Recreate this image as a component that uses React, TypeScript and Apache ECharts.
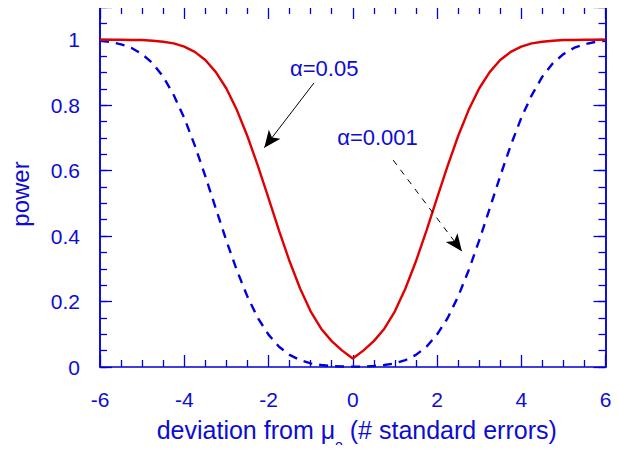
import React, { useEffect, useRef } from "react";
import * as echarts from "echarts";

// Deviation of the true mean from mu_o, in standard errors
const deviation = [
  -6, -5.75, -5.5, -5.25, -5, -4.75, -4.5, -4.25, -4, -3.75, -3.5, -3.25, -3,
  -2.75, -2.5, -2.25, -2, -1.75, -1.5, -1.25, -1, -0.75, -0.5, -0.25, 0,
  0.25, 0.5, 0.75, 1, 1.25, 1.5, 1.75, 2, 2.25, 2.5, 2.75, 3, 3.25, 3.5, 3.75,
  4, 4.25, 4.5, 4.75, 5, 5.25, 5.5, 5.75, 6,
];

// Power of the test at alpha = 0.05
const powerAlpha05 = [
  1.0, 1.0, 1.0, 0.999, 0.999, 0.997, 0.994, 0.989, 0.979, 0.963, 0.938, 0.901, 0.851,
  0.785, 0.705, 0.614, 0.516, 0.417, 0.323, 0.24, 0.17, 0.117, 0.079, 0.05, 0.026,
  0.05, 0.079, 0.117, 0.17, 0.24, 0.323, 0.417, 0.516, 0.614, 0.705, 0.785, 0.851, 0.901, 0.938, 0.963,
  0.979, 0.989, 0.994, 0.997, 0.999, 0.999, 1.0, 1.0, 1.0,
];

// Power of the test at alpha = 0.001
const powerAlpha001 = [
  0.997, 0.993, 0.986, 0.975, 0.956, 0.928, 0.887, 0.831, 0.761, 0.677, 0.583, 0.484, 0.386,
  0.295, 0.215, 0.149, 0.099, 0.062, 0.037, 0.021, 0.011, 0.006, 0.003, 0.0014, 0.001,
  0.0014, 0.003, 0.006, 0.011, 0.021, 0.037, 0.062, 0.099, 0.149, 0.215, 0.295, 0.386, 0.484, 0.583, 0.677,
  0.761, 0.831, 0.887, 0.928, 0.956, 0.975, 0.986, 0.993, 0.997,
];

// Annotation labels and their arrows, in data coordinates
const labelTexts = ["α=0.05", "α=0.001"];
const labelAnchors: [number, number][] = [
  [-1.49, 0.913],
  [-0.37, 0.701],
];
const arrowStarts: [number, number][] = [
  [-0.92, 0.868],
  [0.96, 0.632],
];
const arrowEnds: [number, number][] = [
  [-2.1, 0.67],
  [2.59, 0.354],
];

const TEXT_BLUE = "#0c0cd4";
const AXIS_BLUE = "#0000d8";
const RED = "#e00000";
const DASH_BLUE = "#0000dd";
const FONT = "'Liberation Sans', Arial, Helvetica, sans-serif";

export default function App() {
  const ref = useRef<HTMLDivElement>(null);

  useEffect(() => {
    const chart = echarts.init(ref.current!, null, { renderer: "svg" });

    const axisLine = { show: true, onZero: false, lineStyle: { color: AXIS_BLUE, width: 1.5 } };
    const majorTick = { show: true, inside: true, length: 12, lineStyle: { color: AXIS_BLUE, width: 1.3 } };
    const minorTickLen = 7;

    const xCommon: any = {
      type: "value",
      min: -6,
      max: 6,
      interval: 2,
      axisLine,
      splitLine: { show: false },
      axisTick: majorTick,
      minorTick: {
        show: true,
        splitNumber: 4,
        length: minorTickLen,
        lineStyle: { color: AXIS_BLUE, width: 1.3 },
      },
    };

    const yMajor: any = {
      type: "value",
      min: 0,
      max: 1.1,
      interval: 0.2,
      axisLine,
      splitLine: { show: false },
      axisTick: majorTick,
      minorTick: { show: false },
    };
    const yMinor: any = {
      type: "value",
      min: 0,
      max: 1.1,
      interval: 0.05,
      axisLine,
      splitLine: { show: false },
      axisTick: { show: true, inside: true, length: minorTickLen, lineStyle: { color: AXIS_BLUE, width: 1.3 } },
      axisLabel: { show: false },
    };

    const toPairs = (ys: number[]) => deviation.map((x, i) => [x, ys[i]]);

    const arrowData = (i: number) => [
      [{ coord: arrowStarts[i] }, { coord: arrowEnds[i] }],
    ];

    chart.setOption({
      animation: false,
      grid: { left: 100, right: 13.5, top: 7, bottom: 86, containLabel: false, outerBoundsMode: "none" },
      xAxis: [
        {
          ...xCommon,
          position: "bottom",
          axisLabel: { fontSize: 21, color: TEXT_BLUE, margin: 22, fontFamily: FONT },
          name: "{m|deviation from μ}{s|o}{m| (# standard errors)}",
          nameLocation: "middle",
          nameGap: 48,
          nameMoveOverlap: false,
          nameTextStyle: {
            padding: [0, 0, 0, 8],
            rich: {
              m: { fontSize: 25, color: TEXT_BLUE, fontFamily: FONT, lineHeight: 30, verticalAlign: "middle" },
              s: {
                fontSize: 14,
                color: TEXT_BLUE,
                fontFamily: FONT,
                lineHeight: 14,
                padding: [29, 0, 0, 0],
                verticalAlign: "middle",
              },
            },
          },
        },
        { ...xCommon, position: "top", axisLabel: { show: false } },
      ],
      yAxis: [
        {
          ...yMajor,
          position: "left",
          axisLabel: {
            fontSize: 21,
            color: TEXT_BLUE,
            margin: 20,
            fontFamily: FONT,
            formatter: (v: number) => (v > 1.001 ? "" : String(v)),
          },
          name: "power",
          nameLocation: "middle",
          nameGap: 68,
          nameMoveOverlap: false,
          nameTextStyle: {
            fontSize: 24,
            color: TEXT_BLUE,
            fontFamily: FONT,
            padding: [0, 14, 0, 0],
          },
        },
        { ...yMinor, position: "left" },
        { ...yMajor, position: "right", axisLabel: { show: false } },
        { ...yMinor, position: "right" },
      ],
      series: [
        {
          type: "line",
          name: labelTexts[0],
          data: toPairs(powerAlpha05),
          xAxisIndex: 0,
          yAxisIndex: 0,
          symbol: "none",
          smooth: false,
          lineStyle: { color: RED, width: 2.4 },
          z: 4,
          markLine: {
            silent: true,
            symbol: ["none", "arrow"],
            symbolSize: [11, 17],
            label: { show: false },
            lineStyle: { color: "#000", width: 1, type: "solid" },
            emphasis: { disabled: true },
            data: arrowData(0),
          },
        },
        {
          type: "line",
          name: labelTexts[1],
          data: toPairs(powerAlpha001),
          xAxisIndex: 0,
          yAxisIndex: 0,
          symbol: "none",
          smooth: false,
          lineStyle: { color: DASH_BLUE, width: 2.4, type: [9, 7] },
          z: 3,
          markLine: {
            silent: true,
            symbol: ["none", "arrow"],
            symbolSize: [11, 17],
            label: { show: false },
            lineStyle: { color: "#000", width: 1, type: [6, 6] },
            emphasis: { disabled: true },
            data: arrowData(1),
          },
        },
      ],
    });

    // Place the alpha labels at their data positions
    const labels = labelTexts.map((text, i) => {
      const [px, py] = chart.convertToPixel({ seriesIndex: 0 }, labelAnchors[i]) as number[];
      return {
        type: "text",
        x: px,
        y: py,
        silent: true,
        style: {
          text,
          fill: TEXT_BLUE,
          fontSize: 22,
          fontFamily: FONT,
          align: "left",
          verticalAlign: "middle",
        },
      };
    });
    chart.setOption({ graphic: labels });

    return () => chart.dispose();
  }, []);

  return <div ref={ref} style={{ width: 619, height: 453, margin: -8 }} />;
}
